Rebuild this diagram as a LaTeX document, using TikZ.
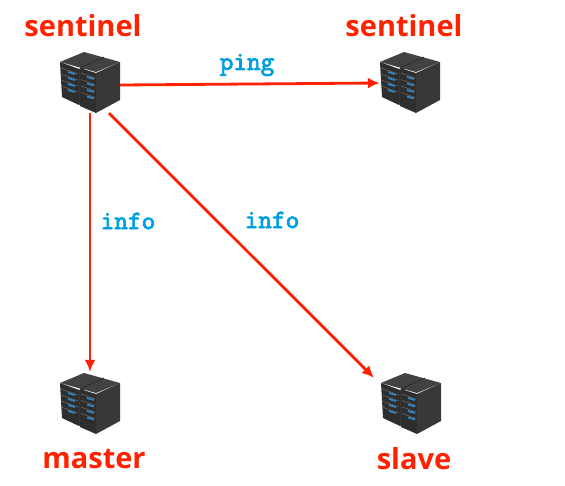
\documentclass[tikz,border=0pt]{standalone}
\usepackage{fontspec}
\setmainfont{Open Sans}
\newfontfamily\cmdfont[FakeBold=3]{Latin Modern Mono}
\usetikzlibrary{arrows.meta,positioning,calc}
\definecolor{alarmred}{HTML}{FF2200}
\definecolor{cmdblue}{HTML}{00A0E0}
\definecolor{rackdark}{HTML}{2E2E2E}
\definecolor{rackside}{HTML}{383838}
\definecolor{racktop}{HTML}{424242}
\definecolor{ledblue}{HTML}{2F86C6}
\tikzset{
  server/.style={minimum width=60pt,minimum height=60pt,inner sep=0pt},
  role/.style={text=alarmred,font=\bfseries\fontsize{29}{34}\selectfont,inner sep=0pt},
  cmd/.style={text=cmdblue,font=\cmdfont\fontsize{26.5}{30}\selectfont,inner sep=0pt},
  arr/.style={-{Latex[length=12pt,width=11pt]},draw=alarmred,line width=2.8pt},
  rack/.pic={
    % top faces
    \fill[racktop] (-30,-20) -- (-6,-30) -- (30,-20) -- (6,-10) -- cycle;
    \draw[rackdark,line width=.8pt] (-10,-14) -- (14,-25);
    % left unit
    \fill[rackdark] (-30,-20) -- (-11,-13) -- (-11,23) -- (-28,15) -- cycle;
    \fill[rackside] (-11,-13) -- (-6,-16) -- (-6,20) -- (-11,23) -- cycle;
    % right unit
    \fill[rackdark] (-10,-14) -- (6,-9) -- (6,31) -- (-10,24) -- cycle;
    \fill[rackside] (6,-9) -- (30,-20) -- (30,18) -- (6,31) -- cycle;
    \foreach \i in {0,1,2,3}{
      \draw[ledblue,line width=1.8pt] (-22,{-10+6*\i}) -- (-15,{-8+6*\i});
      \draw[ledblue,line width=1.8pt] (-3,{-5+6.5*\i}) -- (4,{-3+6.5*\i});
      \draw[black!60,line width=.6pt] (-29,{-14+6*\i}) -- (-12,{-8+6*\i});
      \draw[black!60,line width=.6pt] (-9,{-9+6.5*\i}) -- (5,{-4+6.5*\i});
    }
  }
}
\begin{document}
\begin{tikzpicture}[x=1pt,y=-1pt]
    \useasboundingbox (0,0) rectangle (565,485);
    \node[server] (sentinelA) at (90,82) {};
    \node[server] (sentinelB) at (410,82) {};
    \node[server] (master) at (90,403) {};
    \node[server] (slave) at (411,403) {};
    \pic at (sentinelA) {rack};
    \pic at (sentinelB) {rack};
    \pic at (master) {rack};
    \pic at (slave) {rack};
    \node[role] (sentinelAtext) at (83,26) {sentinel};
    \node[role] (sentinelBtext) at (404,26) {sentinel};
    \node[role] (mastertext) at (94,459) {master};
    \node[role] (slavetext) at (414,459) {slave};
    \draw[arr] ([yshift=-3pt]sentinelA.east) -- ([yshift=-1pt]sentinelB.west);
    \draw[arr] ([yshift=-1pt]sentinelA.south) -- ([yshift=1pt]master.north);
    \draw[arr] ($(sentinelA.south)+(19,1)$) -- ($(slave.north)+(-37,5)$);
    \node[cmd] (ping) at (247,65) {ping};
    \node[cmd] (infoA) at (128,221) {info};
    \node[cmd] (infoB) at (272,220) {info};
\end{tikzpicture}
\end{document}
